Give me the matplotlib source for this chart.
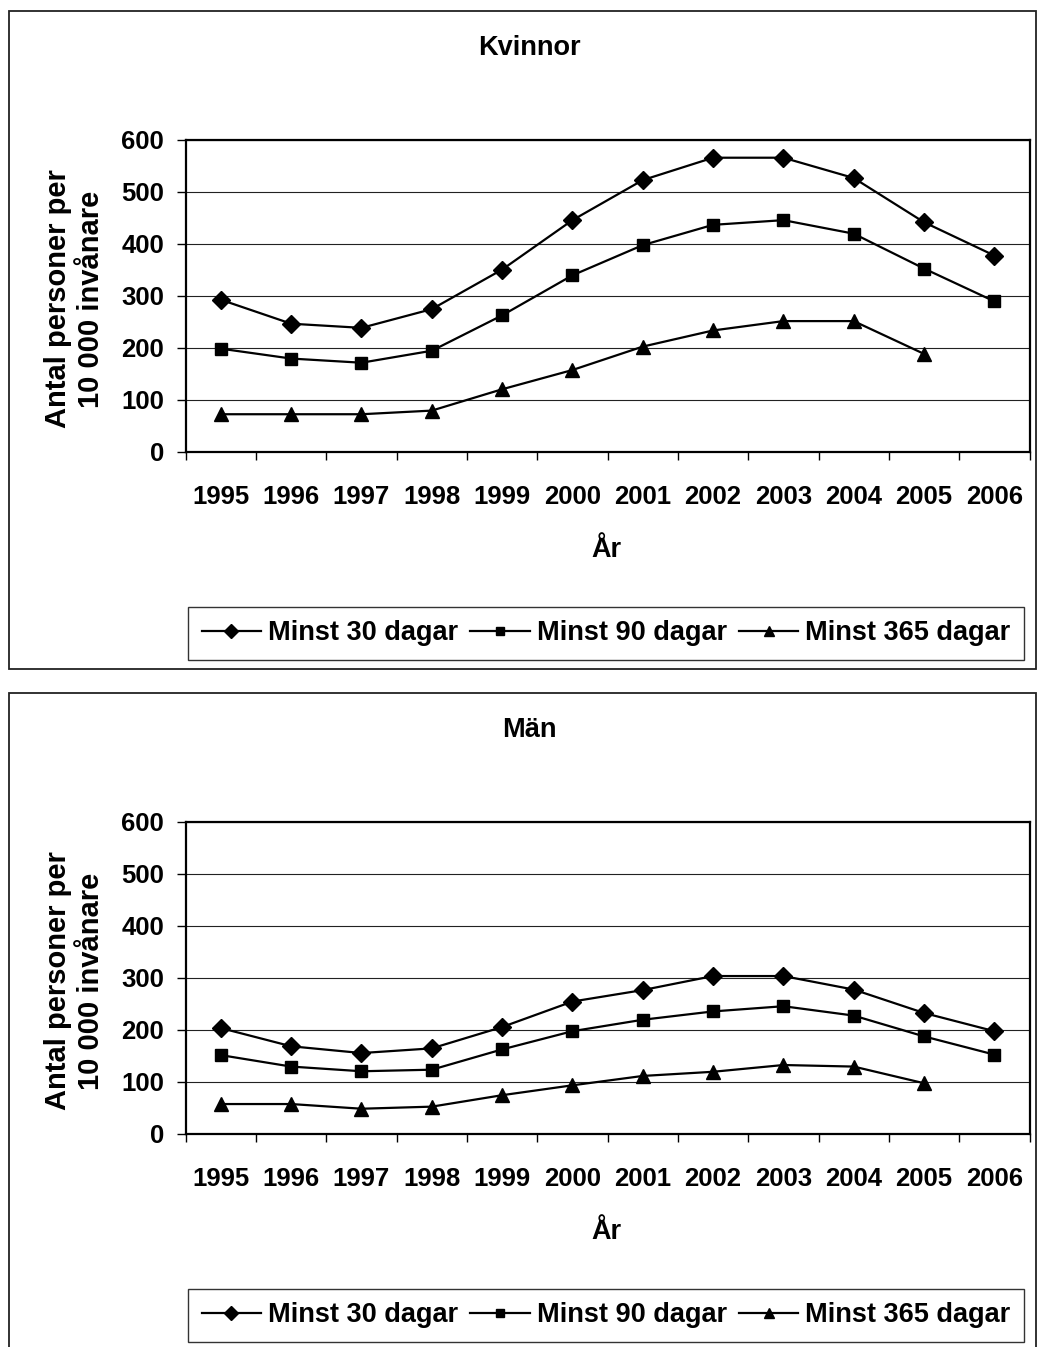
import matplotlib
matplotlib.use("Agg")
import matplotlib.pyplot as plt
from matplotlib.patches import Rectangle
import numpy as np

years = ["1995", "1996", "1997", "1998", "1999", "2000",
         "2001", "2002", "2003", "2004", "2005", "2006"]

kv_30 = [292, 246, 238, 274, 350, 445, 522, 565, 565, 526, 441, 377]
kv_90 = [198, 179, 171, 194, 262, 339, 397, 436, 445, 419, 352, 289]
kv_365 = [72, 72, 72, 79, 120, 157, 202, 233, 251, 251, 188, np.nan]

man_30 = [203, 168, 155, 164, 205, 254, 276, 303, 303, 277, 232, 197]
man_90 = [151, 129, 120, 123, 162, 197, 219, 235, 245, 227, 187, 152]
man_365 = [57, 57, 48, 52, 74, 93, 111, 119, 132, 129, 97, np.nan]

series_labels = ["Minst 30 dagar", "Minst 90 dagar", "Minst 365 dagar"]
yticks = [0, 100, 200, 300, 400, 500, 600]
titles = ["Kvinnor", "Män"]
ylabel = "Antal personer per\n10 000 invånare"
xlabel = "År"

plt.rcParams['font.family'] = ['Liberation Sans', 'DejaVu Sans']
plt.rcParams['font.weight'] = 'bold'

W, H = 1039, 1347
DPI = 100
fig = plt.figure(figsize=(W / DPI, H / DPI), dpi=DPI)

FS_TICK = 18.5
FS_TXT = 19.5
FS_YL = 21

def fx(px):
    return px / W

def fy(py):
    return 1 - py / H

panels = [
    (titles[0], kv_30, kv_90, kv_365, 0),
    (titles[1], man_30, man_90, man_365, 682),
]

x = np.arange(len(years))
markers = ['D', 's', '^']
msizes = [9.5, 9, 10.5]

for title, s30, s90, s365, off in panels:
    top_b = 11 + off
    bot_b = 669 + off
    fig.patches.append(Rectangle((fx(9), fy(bot_b)), fx(1036) - fx(9), fy(top_b) - fy(bot_b),
                                 transform=fig.transFigure, fill=False,
                                 edgecolor='#222222', linewidth=1.3, zorder=0))
    left, right = 185.7, 1029.5
    top, bottom = 139.5 + off, 451.7 + off
    ax = fig.add_axes([fx(left), fy(bottom), fx(right) - fx(left), fy(top) - fy(bottom)])
    handles = []
    for vals, m, ms, lab in zip([s30, s90, s365], markers, msizes, series_labels):
        h, = ax.plot(x, vals, color='black', linewidth=1.6, marker=m, markersize=ms,
                     markerfacecolor='black', markeredgecolor='black', label=lab,
                     clip_on=False, zorder=3)
        handles.append(h)
    ax.set_xlim(-0.5, len(years) - 0.5)
    ax.set_ylim(0, 600)
    ax.set_yticks(yticks)
    ax.set_yticklabels([str(v) for v in yticks], fontsize=FS_TICK, fontweight='bold')
    ax.set_xticks(np.arange(len(years) + 1) - 0.5)
    ax.set_xticklabels([])
    ax.set_xticks(x, minor=True)
    ax.set_xticklabels(years, minor=True, fontsize=FS_TICK, fontweight='bold')
    ax.tick_params(axis='x', which='major', direction='out', length=6, width=1, color='black')
    ax.tick_params(axis='x', which='minor', length=0, pad=24)
    ax.tick_params(axis='y', direction='out', length=6.5, width=1, color='black', pad=9)
    ax.yaxis.grid(True, color='#222222', linewidth=0.8)
    ax.set_axisbelow(True)
    for sp in ax.spines.values():
        sp.set_color('black')
        sp.set_linewidth(1.6)
    ax.set_facecolor('white')

    fig.text(fx(529), fy(48 + off), title, fontsize=FS_TXT, fontweight='bold',
             ha='center', va='center')
    fig.text(fx(74.5), fy(299 + off), ylabel, fontsize=FS_YL, fontweight='bold',
             ha='center', va='center', rotation=90, multialignment='center',
             linespacing=1.25)
    fig.text(fx(606), fy(550 + off), xlabel, fontsize=FS_TXT, fontweight='bold',
             ha='center', va='center')

    leg = ax.legend(handles=handles, loc='center', ncol=3,
                    bbox_to_anchor=(fx(606), fy(633.5 + off)),
                    bbox_transform=fig.transFigure,
                    prop={'size': FS_TXT, 'weight': 'bold'},
                    frameon=True, fancybox=False, shadow=False,
                    handlelength=2.2, handletextpad=0.25, columnspacing=0.45,
                    borderpad=0.5, markerscale=0.7, borderaxespad=0)
    leg.get_frame().set_edgecolor('black')
    leg.get_frame().set_linewidth(1.0)

fig.savefig("out.png", dpi=DPI, facecolor='white')
